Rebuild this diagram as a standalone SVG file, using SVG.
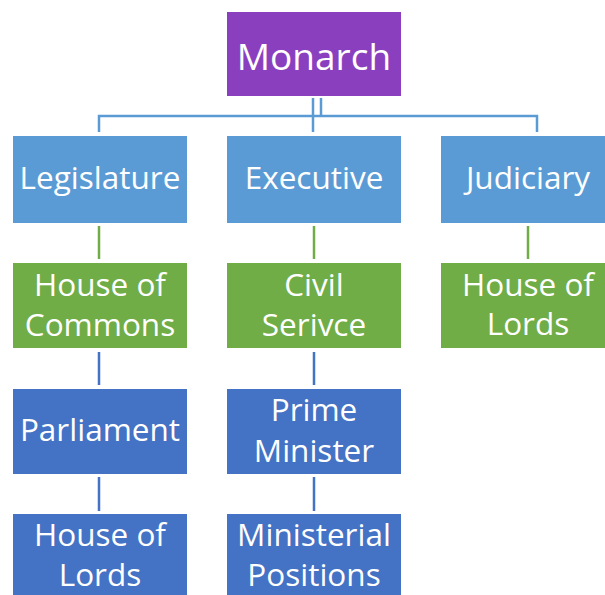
<svg xmlns="http://www.w3.org/2000/svg" width="605" height="595" viewBox="0 0 605 595">
  <style>
    .box { stroke: none; }
    .royal { fill: #8A3FBF; }
    .branch { fill: #5B9BD5; }
    .body { fill: #70AD47; }
    .office { fill: #4472C4; }
    .lbl { font-family: "Open Sans", "Noto Sans", sans-serif; font-size: 31.5px; fill: #FFFFFF; text-anchor: middle; }
    .big { font-size: 37px; }
    .c-branch { stroke: #5B9BD5; stroke-width: 2.5; fill: none; }
    .c-body { stroke: #70AD47; stroke-width: 2.5; fill: none; }
    .c-office { stroke: #4472C4; stroke-width: 2.5; fill: none; }
  </style>
  <rect width="605" height="595" fill="#FFFFFF"/>

  <g id="connectors">
    <path class="c-branch" d="M313 98 V132 M321 98 V116 M99 132 V116 H537 V132"/>
    <path class="c-body" d="M99 226 V259 M314 226 V259 M528 226 V259"/>
    <path class="c-office" d="M99 352 V385 M314 352 V385 M99 477 V511 M314 477 V511"/>
  </g>

  <g id="monarch">
    <rect class="box royal" x="227" y="12" width="174" height="84"/>
    <text class="lbl big" x="314" y="70">Monarch</text>
  </g>

  <g id="legislature">
    <rect class="box branch" x="13" y="136" width="174" height="87"/>
    <text class="lbl" x="100" y="189">Legislature</text>
  </g>
  <g id="executive">
    <rect class="box branch" x="227" y="136" width="174" height="87"/>
    <text class="lbl" x="314" y="189">Executive</text>
  </g>
  <g id="judiciary">
    <rect class="box branch" x="441" y="136" width="174" height="87"/>
    <text class="lbl" x="528" y="189">Judiciary</text>
  </g>

  <g id="house-of-commons">
    <rect class="box body" x="13" y="263" width="174" height="85"/>
    <text class="lbl" x="100" y="296">House of</text>
    <text class="lbl" x="100" y="336">Commons</text>
  </g>
  <g id="civil-service">
    <rect class="box body" x="227" y="263" width="174" height="85"/>
    <text class="lbl" x="314" y="296">Civil</text>
    <text class="lbl" x="314" y="336">Serivce</text>
  </g>
  <g id="house-of-lords-judicial">
    <rect class="box body" x="441" y="263" width="174" height="85"/>
    <text class="lbl" x="528" y="296">House of</text>
    <text class="lbl" x="528" y="335">Lords</text>
  </g>

  <g id="parliament">
    <rect class="box office" x="13" y="389" width="174" height="85"/>
    <text class="lbl" x="100" y="441">Parliament</text>
  </g>
  <g id="prime-minister">
    <rect class="box office" x="227" y="389" width="174" height="85"/>
    <text class="lbl" x="314" y="421">Prime</text>
    <text class="lbl" x="314" y="462">Minister</text>
  </g>

  <g id="house-of-lords">
    <rect class="box office" x="13" y="514" width="174" height="90"/>
    <text class="lbl" x="100" y="546">House of</text>
    <text class="lbl" x="100" y="586">Lords</text>
  </g>
  <g id="ministerial-positions">
    <rect class="box office" x="227" y="514" width="174" height="90"/>
    <text class="lbl" x="314" y="546">Ministerial</text>
    <text class="lbl" x="314" y="586">Positions</text>
  </g>
</svg>
